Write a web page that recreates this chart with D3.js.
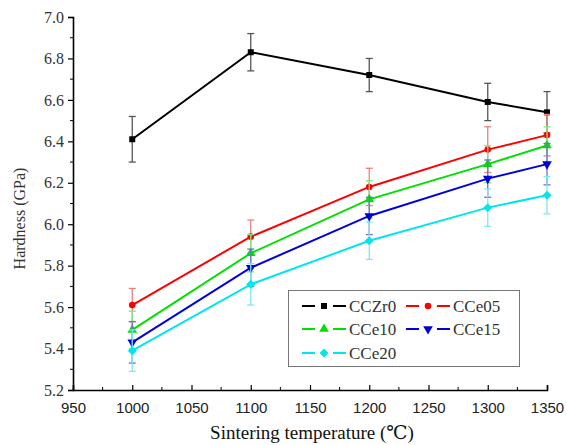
<!DOCTYPE html>
<html>
<head>
<meta charset="utf-8">
<script src="https://cdn.jsdelivr.net/npm/d3@7"></script>
<style>
  body { margin: 0; background: #fff; }
  svg { display: block; }
</style>
</head>
<body>
<div id="chart"></div>
<script>
// Data
const temps = [1000, 1100, 1200, 1300, 1350];
const seriesNames = ['CCZr0', 'CCe05', 'CCe10', 'CCe15', 'CCe20'];
const colors = ['#000000', '#ff0000', '#00e000', '#0000dd', '#00e5ee'];
const errColors = ['#555555', '#e88080', '#80e880', '#7070d0', '#80e8ee'];
const symbols = ['square', 'circle', 'triangle', 'triangleDown', 'diamond'];

const hCCZr0 = [6.41, 6.83, 6.72, 6.59, 6.54];
const hCCe05 = [5.61, 5.94, 6.18, 6.36, 6.43];
const hCCe10 = [5.49, 5.86, 6.12, 6.29, 6.38];
const hCCe15 = [5.43, 5.79, 6.04, 6.22, 6.29];
const hCCe20 = [5.39, 5.71, 5.92, 6.08, 6.14];

const eCCZr0 = [0.11, 0.09, 0.08, 0.09, 0.10];
const eCCe05 = [0.08, 0.08, 0.09, 0.11, 0.10];
const eCCe10 = [0.09, 0.09, 0.09, 0.09, 0.09];
const eCCe15 = [0.10, 0.09, 0.09, 0.09, 0.10];
const eCCe20 = [0.10, 0.10, 0.09, 0.09, 0.09];

const values = [hCCZr0, hCCe05, hCCe10, hCCe15, hCCe20];
const errors = [eCCZr0, eCCe05, eCCe10, eCCe15, eCCe20];

const xTicks = [950, 1000, 1050, 1100, 1150, 1200, 1250, 1300, 1350];
const yTicks = [5.2, 5.4, 5.6, 5.8, 6.0, 6.2, 6.4, 6.6, 6.8, 7.0];

const W = 566, H = 445;
const margin = { left: 73, right: 19, top: 17, bottom: 55 };

const svg = d3.select('#chart').append('svg')
    .attr('width', W).attr('height', H);

const x = d3.scaleLinear().domain([950, 1350]).range([margin.left, W - margin.right]);
const y = d3.scaleLinear().domain([5.2, 7.0]).range([H - margin.bottom, margin.top]);

const serif = '"Liberation Serif", "Times New Roman", "DejaVu Serif", serif';
const sans = '"Liberation Sans", Arial, sans-serif';

// Axes
const xAxis = svg.append('g')
    .attr('transform', `translate(0,${y(5.2)})`)
    .call(d3.axisBottom(x).tickValues(xTicks).tickSize(-5).tickPadding(12).tickFormat(d3.format('d')));
xAxis.selectAll('text').attr('font-family', sans).attr('font-size', 15).attr('fill', '#222').attr('dy', '0.71em');

const xMinor = d3.range(975, 1350, 50);
svg.append('g').selectAll('line').data(xMinor).join('line')
    .attr('x1', d => x(d)).attr('x2', d => x(d))
    .attr('y1', y(5.2)).attr('y2', y(5.2) - 3)
    .attr('stroke', '#000');

const yAxis = svg.append('g')
    .attr('transform', `translate(${x(950)},0)`)
    .call(d3.axisLeft(y).tickValues(yTicks).tickSize(5).tickPadding(4).tickFormat(d3.format('.1f')));
yAxis.selectAll('text').attr('font-family', serif).attr('font-size', 16).attr('fill', '#333');

const yMinor = d3.range(5.3, 7.0, 0.2);
svg.append('g').selectAll('line').data(yMinor).join('line')
    .attr('x1', x(950)).attr('x2', x(950) - 3)
    .attr('y1', d => y(d)).attr('y2', d => y(d))
    .attr('stroke', '#000');

[xAxis, yAxis].forEach(a => {
    a.select('.domain').attr('stroke-width', 1.6);
    a.selectAll('.tick line').attr('stroke-width', 1.2);
});

// Axis titles
svg.append('text')
    .attr('x', 312).attr('y', 439)
    .attr('text-anchor', 'middle')
    .attr('font-family', serif).attr('font-size', 19).attr('fill', '#111')
    .text('Sintering temperature (℃)');

svg.append('text')
    .attr('transform', `translate(25,${(y(5.2) + y(7.0)) / 2 + 15}) rotate(-90)`)
    .attr('text-anchor', 'middle')
    .attr('font-family', serif).attr('font-size', 16).attr('fill', '#333')
    .text('Hardness (GPa)');

function markerPath(name) {
    if (name === 'square') return d3.symbol().type(d3.symbolSquare).size(36)();
    if (name === 'circle') return d3.symbol().type(d3.symbolCircle).size(34)();
    if (name === 'diamond') return 'M0,-4.5L4.5,0L0,4.5L-4.5,0Z';
    return d3.symbol().type(d3.symbolTriangle).size(40)();
}

function drawMarker(g, name, cx, cy, color) {
    g.append('path')
        .attr('d', markerPath(name))
        .attr('transform', `translate(${cx},${cy})` + (name === 'triangleDown' ? ' rotate(180)' : ''))
        .attr('fill', color);
}

// Series
const line = d3.line().x(d => x(d[0])).y(d => y(d[1]));

seriesNames.forEach((name, i) => {
    const g = svg.append('g');
    const pts = temps.map((t, j) => [t, values[i][j], errors[i][j]]);

    // error bars
    pts.forEach(p => {
        const cx = x(p[0]);
        g.append('line').attr('x1', cx).attr('x2', cx)
            .attr('y1', y(p[1] - p[2])).attr('y2', y(p[1] + p[2]))
            .attr('stroke', errColors[i]).attr('stroke-width', 1.3);
        [p[1] - p[2], p[1] + p[2]].forEach(v => {
            g.append('line').attr('x1', cx - 3.5).attr('x2', cx + 3.5)
                .attr('y1', y(v)).attr('y2', y(v))
                .attr('stroke', errColors[i]).attr('stroke-width', 1.3);
        });
    });

    g.append('path').datum(pts)
        .attr('d', line)
        .attr('fill', 'none')
        .attr('stroke', colors[i])
        .attr('stroke-width', 2);

    pts.forEach(p => drawMarker(g, symbols[i], x(p[0]), y(p[1]), colors[i]));
});

// Legend
const legend = svg.append('g');
legend.append('rect')
    .attr('x', 288.5).attr('y', 290.5).attr('width', 231).attr('height', 76)
    .attr('fill', '#fff').attr('stroke', '#777').attr('stroke-width', 1);

const legPos = [
    [302, 306], [406, 306],
    [302, 329], [406, 329],
    [302, 353]
];
seriesNames.forEach((name, i) => {
    const [lx, ly] = legPos[i];
    legend.append('line')
        .attr('x1', lx).attr('x2', lx + 44)
        .attr('y1', ly).attr('y2', ly)
        .attr('stroke', colors[i]).attr('stroke-width', 2);
    legend.append('rect')
        .attr('x', lx + 13).attr('y', ly - 4).attr('width', 18).attr('height', 8)
        .attr('fill', '#fff');
    drawMarker(legend, symbols[i], lx + 22, ly, colors[i]);
    legend.append('text')
        .attr('x', lx + 47).attr('y', ly + 6)
        .attr('font-family', serif).attr('font-size', 17).attr('fill', '#333')
        .text(name);
});
</script>
</body>
</html>
